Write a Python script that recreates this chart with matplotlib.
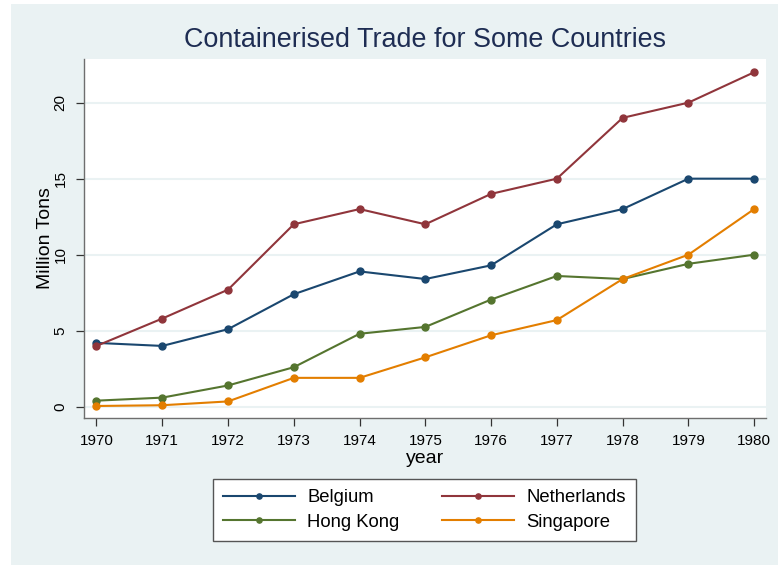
import matplotlib
matplotlib.use("Agg")
import matplotlib.pyplot as plt
from matplotlib.patches import Rectangle

# data
years = [1970, 1971, 1972, 1973, 1974, 1975, 1976, 1977, 1978, 1979, 1980]
belgium = [4.2, 4.0, 5.1, 7.4, 8.9, 8.4, 9.3, 12.0, 13.0, 15.0, 15.0]
netherlands = [4.0, 5.8, 7.7, 12.0, 13.0, 12.0, 14.0, 15.0, 19.0, 20.0, 22.0]
hong_kong = [0.4, 0.6, 1.4, 2.6, 4.8, 5.25, 7.05, 8.6, 8.4, 9.4, 10.0]
singapore = [0.05, 0.1, 0.35, 1.9, 1.9, 3.25, 4.7, 5.7, 8.4, 10.0, 13.0]
series_names = ["Belgium", "Netherlands", "Hong Kong", "Singapore"]
y_ticks = [0, 5, 10, 15, 20]

plt.rcParams['font.family'] = ['Liberation Sans', 'DejaVu Sans']

bg = "#eaf2f3"
colors = ["#1a476f", "#90353b", "#55752f", "#e37e00"]

fig = plt.figure(figsize=(7.78, 5.65), dpi=100)
fig.patch.set_facecolor("white")
fig.patches.append(Rectangle((11 / 778, 0), 1 - 11 / 778, 561 / 565,
                             transform=fig.transFigure, facecolor=bg,
                             edgecolor="none", zorder=-10))

ax = fig.add_axes([84 / 778, 1 - 418 / 565, (766 - 84) / 778, (418 - 59) / 565])
ax.set_facecolor("white")

all_series = [belgium, netherlands, hong_kong, singapore]
for name, vals, c in zip(series_names, all_series, colors):
    ax.plot(years, vals, color=c, lw=1.5, marker="o", markersize=5,
            label=name, zorder=3)

ax.set_xlim(1969.81, 1980.18)
ax.set_ylim(-0.74, 22.87)
ax.set_xticks(years)
ax.set_yticks(y_ticks)
ax.grid(axis="y", color=bg, lw=1.5, zorder=0)
ax.set_axisbelow(True)

for s in ["top", "right"]:
    ax.spines[s].set_visible(False)
for s in ["left", "bottom"]:
    ax.spines[s].set_color("#6e6e6e")
    ax.spines[s].set_linewidth(1.0)

ax.tick_params(axis="both", colors="#333333", labelcolor="black",
               labelsize=11, length=5.8, width=0.9)
ax.tick_params(axis="x", pad=6)
ax.tick_params(axis="y", pad=6)
for lab in ax.get_yticklabels():
    lab.set_rotation(90)
    lab.set_va("center")

ax.set_xlabel("year", fontsize=14, labelpad=1)
ax.set_ylabel("Million Tons", fontsize=14, labelpad=0)

fig.text(425 / 778, 1 - 40 / 565, "Containerised Trade for Some Countries",
         ha="center", va="center", fontsize=19.4, color="#1e2d53")

handles, labels = ax.get_legend_handles_labels()
order = [0, 2, 1, 3]
leg = fig.legend([handles[i] for i in order], [labels[i] for i in order],
                 loc="center", bbox_to_anchor=(424.5 / 778, 1 - 510 / 565),
                 bbox_transform=fig.transFigure, ncol=2, fontsize=13.3,
                 frameon=True, fancybox=False, edgecolor="#555555",
                 facecolor="white", framealpha=1,
                 handlelength=3.9, handletextpad=0.65, columnspacing=2.3,
                 labelspacing=0.4, borderpad=0.55, markerscale=0.75)
leg.get_frame().set_linewidth(1.0)

fig.savefig("out.png", dpi=100, facecolor=fig.get_facecolor())
